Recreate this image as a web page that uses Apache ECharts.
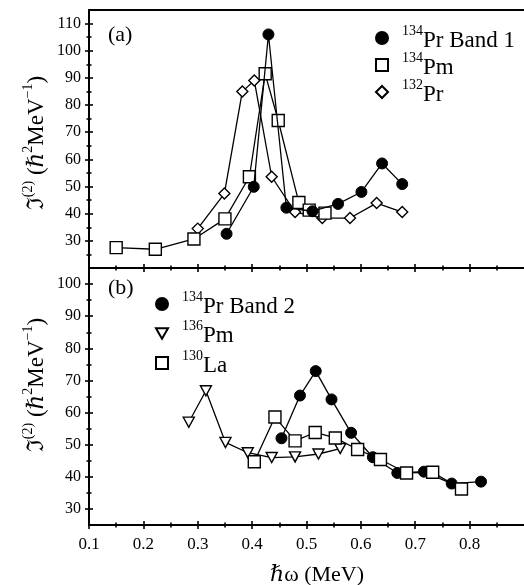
<!DOCTYPE html>
<html>
<head>
<meta charset="utf-8">
<script src="https://cdn.jsdelivr.net/npm/echarts@6/dist/echarts.min.js"></script>
<style>
html,body{margin:0;padding:0;background:#fff}
#chart{width:524px;height:585px}
</style>
</head>
<body>
<div id="chart"></div>
<script>
const SERIF = '"Liberation Serif","Times New Roman","DejaVu Serif",serif';

// Panel (a): dynamic moment of inertia vs rotational frequency
const pr134Band1X = [0.353, 0.403, 0.430, 0.463, 0.511, 0.558, 0.601, 0.639, 0.676];
const pr134Band1Y = [32.6, 49.9, 106.0, 42.2, 40.9, 43.6, 48.0, 58.5, 50.9];
const pm134X = [0.150, 0.222, 0.293, 0.350, 0.395, 0.424, 0.448, 0.486, 0.505, 0.534];
const pm134Y = [27.5, 26.9, 30.7, 38.1, 53.6, 91.5, 74.3, 44.1, 41.3, 40.2];
const pr132X = [0.300, 0.349, 0.382, 0.404, 0.436, 0.479, 0.529, 0.580, 0.629, 0.676];
const pr132Y = [34.5, 47.4, 85.0, 89.0, 53.6, 40.6, 38.4, 38.4, 43.9, 40.6];

// Panel (b)
const pr134Band2X = [0.454, 0.488, 0.517, 0.546, 0.582, 0.622, 0.667, 0.716, 0.767, 0.821];
const pr134Band2Y = [52.0, 65.3, 72.9, 64.1, 53.7, 46.1, 41.2, 41.6, 37.9, 38.5];
const pm136X = [0.2835, 0.315, 0.351, 0.392, 0.436, 0.479, 0.522, 0.562];
const pm136Y = [57.0, 66.8, 50.7, 47.5, 46.0, 46.2, 47.1, 48.8];
const la130X = [0.404, 0.442, 0.479, 0.516, 0.553, 0.594, 0.636, 0.684, 0.732, 0.785];
const la130Y = [44.7, 58.6, 51.2, 53.8, 52.1, 48.5, 45.4, 41.2, 41.4, 36.2];

// Tick positions
const xMajor = [0.1, 0.2, 0.3, 0.4, 0.5, 0.6, 0.7, 0.8];
const xMinor = [0.15, 0.25, 0.35, 0.45, 0.55, 0.65, 0.75, 0.85];
const yMajorA = [30, 40, 50, 60, 70, 80, 90, 100, 110];
const yMinorA = [25, 35, 45, 55, 65, 75, 85, 95, 105];
const yMajorB = [30, 40, 50, 60, 70, 80, 90, 100];
const yMinorB = [35, 45, 55, 65, 75, 85, 95];

const X_MIN = 0.1, X_MAX = 0.9;
const A_MIN = 20, A_MAX = 115;
const B_MIN = 25, B_MAX = 105;

const zip = (xs, ys) => xs.map((x, i) => [x, ys[i]]);

const labelStyle = { color: '#000', fontFamily: SERIF, fontSize: 16 };

function xAxis(grid, position, ticks, len, inside, opts = {}) {
  return {
    type: 'value', gridIndex: grid, position, min: X_MIN, max: X_MAX,
    axisLine: { show: !!opts.line, onZero: false, lineStyle: { color: '#000', width: 2 } },
    axisTick: { show: ticks.length > 0, inside, length: len, customValues: ticks,
                lineStyle: { color: '#000', width: 1.6 } },
    axisLabel: opts.labels
      ? Object.assign({ show: true, customValues: ticks, margin: 11,
                        formatter: v => v.toFixed(1) }, labelStyle, { fontSize: 17 })
      : { show: false },
    splitLine: { show: false }
  };
}

function yAxis(grid, min, max, ticks, len, inside, opts = {}) {
  return {
    type: 'value', gridIndex: grid, position: 'left', min, max,
    axisLine: { show: !!opts.line, onZero: false, lineStyle: { color: '#000', width: 2 } },
    axisTick: { show: true, inside, length: len, customValues: ticks,
                lineStyle: { color: '#000', width: 1.6 } },
    axisLabel: opts.labels
      ? Object.assign({ show: true, customValues: ticks, margin: 8 }, labelStyle)
      : { show: false },
    splitLine: { show: false }
  };
}

const xAxes = [
  xAxis(0, 'bottom', xMajor, 4, true, { line: true }),        // 0: panel a, divider
  xAxis(0, 'bottom', xMinor, 2.5, true),
  xAxis(0, 'top', [], 0, true, { line: true }),                // top frame
  xAxis(1, 'bottom', xMajor, 4, false, { line: true, labels: true }), // 3: panel b
  xAxis(1, 'bottom', xMajor, 4, true),
  xAxis(1, 'bottom', xMinor, 2.5, true),
  xAxis(1, 'bottom', xMinor, 2.5, false),
  xAxis(1, 'top', xMajor, 4, true),
  xAxis(1, 'top', xMinor, 2.5, true)
];
const yAxes = [
  yAxis(0, A_MIN, A_MAX, yMajorA, 4, false, { line: true, labels: true }), // 0: panel a
  yAxis(0, A_MIN, A_MAX, yMajorA, 4, true),
  yAxis(0, A_MIN, A_MAX, yMinorA, 2.5, true),
  yAxis(0, A_MIN, A_MAX, yMinorA, 2.5, false),
  yAxis(1, B_MIN, B_MAX, yMajorB, 4, false, { line: true, labels: true }), // 4: panel b
  yAxis(1, B_MIN, B_MAX, yMajorB, 4, true),
  yAxis(1, B_MIN, B_MAX, yMinorB, 2.5, true),
  yAxis(1, B_MIN, B_MAX, yMinorB, 2.5, false)
];

const filled = { color: '#000', borderColor: '#000', borderWidth: 1 };
const hollow = { color: '#fff', borderColor: '#000', borderWidth: 1.4 };
const triDown = 'path://M0,0L12,0L6,10.4Z';

function line(name, xs, ys, xi, yi, symbol, size, style, z) {
  return {
    type: 'line', name, data: zip(xs, ys), xAxisIndex: xi, yAxisIndex: yi,
    symbol, symbolSize: size, showAllSymbol: true, z,
    lineStyle: { color: '#000', width: 1.3 },
    itemStyle: style, emphasis: { disabled: true }, animation: false
  };
}

const series = [
  line('132Pr', pr132X, pr132Y, 0, 0, 'diamond', 11, hollow, 2),
  line('134Pm', pm134X, pm134Y, 0, 0, 'rect', 12, hollow, 3),
  line('134Pr Band 1', pr134Band1X, pr134Band1Y, 0, 0, 'circle', 11, filled, 4),
  line('134Pr Band 2', pr134Band2X, pr134Band2Y, 3, 4, 'circle', 11, filled, 2),
  line('136Pm', pm136X, pm136Y, 3, 4, triDown, [11, 10], hollow, 3),
  line('130La', la130X, la130Y, 3, 4, 'rect', 12, hollow, 4)
];

const legendRich = {
  sup: { fontFamily: SERIF, fontSize: 14, color: '#000', verticalAlign: 'top', lineHeight: 14, padding: [0, 0, 0, 9] },
  main: { fontFamily: SERIF, fontSize: 23, color: '#000', verticalAlign: 'bottom', lineHeight: 28 }
};
const legendFmt = name => name.replace(/^(\d+)(.*)$/, '{sup|$1}{main|$2}');

function legend(left, top, gap, items) {
  return {
    orient: 'vertical', left, top, itemWidth: 12, itemHeight: 12, itemGap: gap,
    selectedMode: false, data: items, formatter: legendFmt,
    textStyle: { rich: legendRich }
  };
}

const ylabRich = {
  m: { fontFamily: SERIF, fontSize: 23, color: '#000', lineHeight: 27, verticalAlign: 'bottom' },
  s: { fontFamily: SERIF, fontSize: 14, color: '#000', lineHeight: 14, verticalAlign: 'top' }
};
const ylabText = '{m|\u2111}{s|(2)}{m| (\u210F}{s|2}{m|MeV}{s|\u22121}{m|)}';

const chart = echarts.init(document.getElementById('chart'), null, { renderer: 'canvas' });
chart.setOption({
  backgroundColor: '#fff',
  animation: false,
  grid: [
    { left: 89, top: 10, width: 443, height: 258 },
    { left: 89, top: 268, width: 443, height: 257 }
  ],
  xAxis: xAxes,
  yAxis: yAxes,
  legend: [
    legend(370, 19, -1, [
      { name: '134Pr Band 1', icon: 'circle' },
      { name: '134Pm', icon: 'rect' },
      { name: '132Pr', icon: 'diamond' }
    ]),
    legend(150, 285, 1.5, [
      { name: '134Pr Band 2', icon: 'circle' },
      { name: '136Pm', icon: triDown },
      { name: '130La', icon: 'rect' }
    ])
  ],
  series,
  graphic: [
    { type: 'text', left: 108, top: 24, style: { text: '(a)', font: '22px ' + SERIF, fill: '#000' } },
    { type: 'text', left: 108, top: 277, style: { text: '(b)', font: '22px ' + SERIF, fill: '#000' } },
    { type: 'text', x: 317, y: 575, style: { text: '\u210F\u03C9 (MeV)', font: '22px ' + SERIF, fill: '#000',
        align: 'center', verticalAlign: 'middle' } },
    { type: 'text', x: 35, y: 143, rotation: Math.PI / 2,
      style: { text: ylabText, rich: ylabRich, align: 'center', verticalAlign: 'middle' } },
    { type: 'text', x: 35, y: 385, rotation: Math.PI / 2,
      style: { text: ylabText, rich: ylabRich, align: 'center', verticalAlign: 'middle' } }
  ]
});
</script>
</body>
</html>
